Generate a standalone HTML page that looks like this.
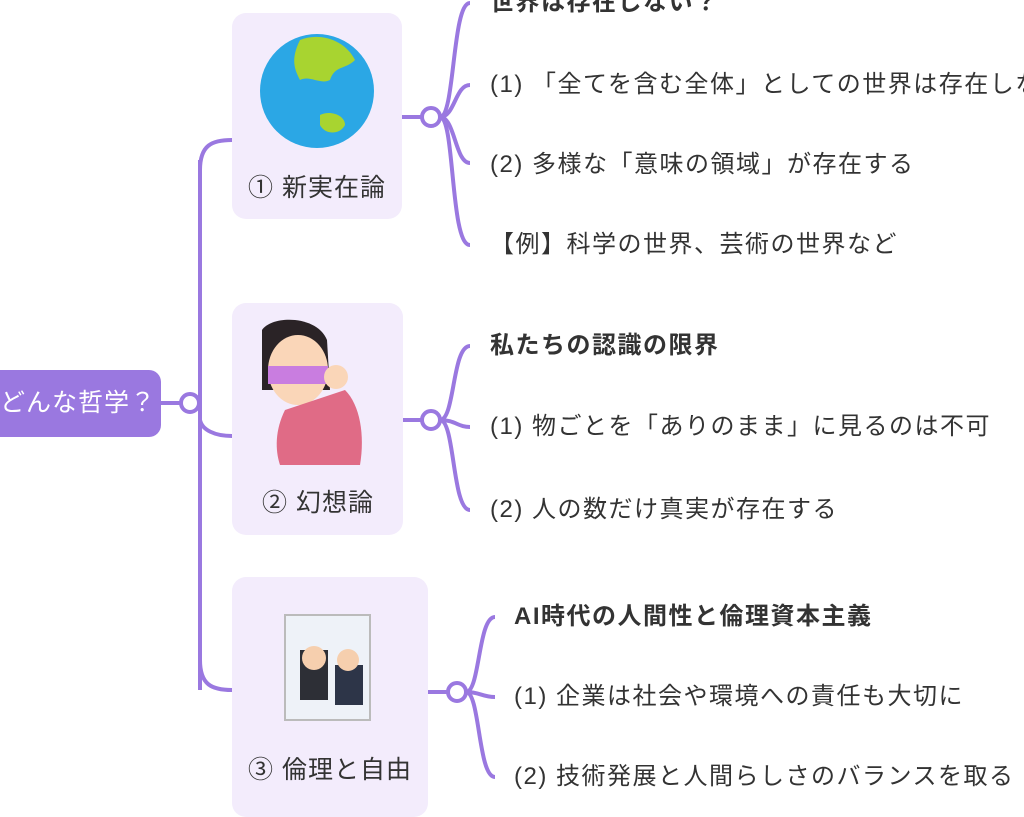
<!DOCTYPE html>
<html><head><meta charset="utf-8"><style>
body{margin:0;width:1024px;height:794px;overflow:hidden;background:#fff;position:relative;font-family:"Liberation Sans","Noto Sans CJK JP",sans-serif;color:#333}
.t{position:absolute;font-size:24px;letter-spacing:1.5px;white-space:nowrap;line-height:30px}
.b{font-weight:bold}
.card{position:absolute;background:#f3ecfc;border-radius:14px}
.lab{position:absolute;font-size:25px;letter-spacing:1px;color:#333;white-space:nowrap}
</style></head><body>
<div class="card" style="left:232px;top:13px;width:170px;height:206px"></div>
<div class="card" style="left:232px;top:303px;width:171px;height:232px"></div>
<div class="card" style="left:232px;top:577px;width:196px;height:240px"></div>
<div style="position:absolute;left:-20px;top:370px;width:181px;height:67px;background:#9a78e0;border-radius:12px"></div>
<div class="t" style="left:0;top:388px;color:#fff;font-size:25px;letter-spacing:1px">どんな哲学？</div>
<svg width="1024" height="794" style="position:absolute;left:0;top:0">
<g fill="none" stroke="#9a78e0" stroke-width="4">
<path d="M161 403H182"/>
<path d="M200 160V690"/>
<path d="M232 140C212 140 200 145 200 170"/>
<path d="M200 420C202 430 215 436 232 436"/>
<path d="M200 660C200 685 212 690 232 690"/>
<path d="M402 117H422"/>
<path d="M440 117C455 117 452 3 470 3"/>
<path d="M440 117C455 117 455 85 470 85"/>
<path d="M440 117C455 117 455 163 470 163"/>
<path d="M440 117C455 117 450 245 470 245"/>
<path d="M403 420H422"/>
<path d="M440 420C455 420 452 346 470 346"/>
<path d="M440 420C455 420 458 427 470 427"/>
<path d="M440 420C455 420 452 510 470 510"/>
<path d="M428 692H448"/>
<path d="M466 692C480 692 478 617 495 617"/>
<path d="M466 692C480 692 482 697 495 697"/>
<path d="M466 692C480 692 478 777 495 777"/>
</g>
<g fill="#fff" stroke="#9a78e0" stroke-width="4">
<circle cx="190" cy="403" r="9"/><circle cx="431" cy="117" r="9"/><circle cx="431" cy="420" r="9"/><circle cx="457" cy="692" r="9"/>
</g>
<circle cx="317" cy="91" r="57" fill="#2ba7e5"/>
<path d="M300 40c20-8 45 0 55 20c-10 10-20 5-25 20c-10 5-20-5-30 0c-5-10-10-20 0-40z" fill="#a8d430"/>
<path d="M320 115c10-5 25 0 25 10c-5 10-20 10-25 0z" fill="#a8d430"/>
<path d="M262 330c10-15 55-15 65 10l3 50h-68z" fill="#2a2326"/>
<ellipse cx="298" cy="370" rx="30" ry="35" fill="#fad6b8"/>
<rect x="268" y="366" width="60" height="18" fill="#c97de0"/>
<path d="M285 410c-10 20-10 40-5 55h80c5-30 0-60-15-75z" fill="#e06b86"/>
<circle cx="336" cy="377" r="12" fill="#fad6b8"/>
<rect x="285" y="615" width="85" height="105" fill="#eef2f8" stroke="#bbb" stroke-width="2"/>
<rect x="300" y="650" width="28" height="50" fill="#2d2f36"/><circle cx="314" cy="658" r="12" fill="#f6cfae"/>
<rect x="335" y="665" width="28" height="40" fill="#2d3548"/><circle cx="348" cy="660" r="11" fill="#f6cfae"/>
</svg>
<div class="lab" style="left:248px;top:168px">① 新実在論</div>
<div class="lab" style="left:262px;top:483px">② 幻想論</div>
<div class="lab" style="left:248px;top:750px">③ 倫理と自由</div>
<div class="t b" style="left:490px;top:-12px">世界は存在しない？</div>
<div class="t" style="left:490px;top:70px">(1) 「全てを含む全体」としての世界は存在しない</div>
<div class="t" style="left:490px;top:150px">(2) 多様な「意味の領域」が存在する</div>
<div class="t" style="left:490px;top:230px">【例】科学の世界、芸術の世界など</div>
<div class="t b" style="left:490px;top:331px">私たちの認識の限界</div>
<div class="t" style="left:490px;top:412px">(1) 物ごとを「ありのまま」に見るのは不可</div>
<div class="t" style="left:490px;top:495px">(2) 人の数だけ真実が存在する</div>
<div class="t b" style="left:514px;top:602px">AI時代の人間性と倫理資本主義</div>
<div class="t" style="left:514px;top:682px">(1) 企業は社会や環境への責任も大切に</div>
<div class="t" style="left:514px;top:762px">(2) 技術発展と人間らしさのバランスを取る</div>
</body></html>
